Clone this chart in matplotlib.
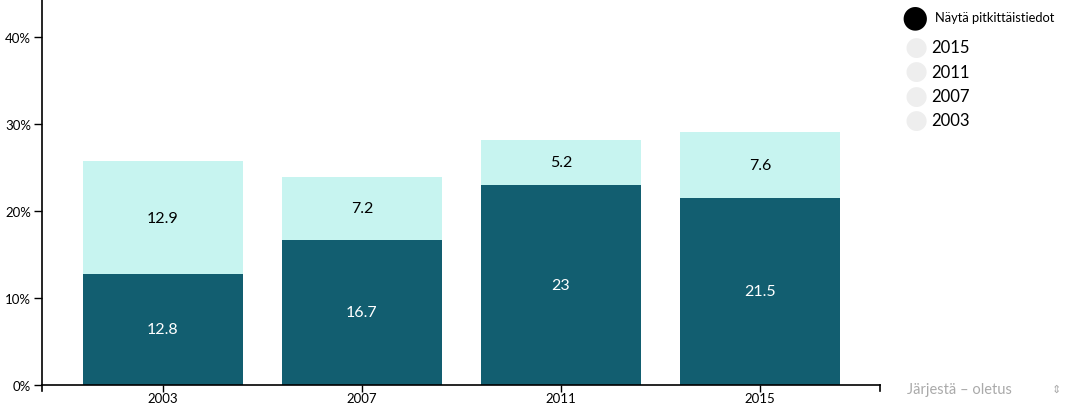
import matplotlib
matplotlib.use("Agg")
import matplotlib.pyplot as plt

years = ["2003", "2007", "2011", "2015"]
lower = [12.8, 16.7, 23.0, 21.5]
upper = [12.9, 7.2, 5.2, 7.6]
yticks = [0, 10, 20, 30, 40]
legend_years = ["2015", "2011", "2007", "2003"]

dark = "#125e70"
light = "#c7f4f0"

plt.rcParams["font.family"] = ["Lato", "DejaVu Sans"]

fig = plt.figure(figsize=(10.66, 4.06), dpi=100)
ax = fig.add_axes([42 / 1066, 20 / 406, 838 / 1066, 386 / 406])

x = list(range(len(years)))
ax.bar(x, lower, width=0.8, color=dark, zorder=2)
ax.bar(x, upper, width=0.8, bottom=lower, color=light, zorder=2)

for i in x:
    ax.text(i, lower[i] / 2, f"{lower[i]:g}", ha="center", va="center",
            color="white", fontsize=11.5)
    ax.text(i, lower[i] + upper[i] / 2, f"{upper[i]:g}", ha="center", va="center",
            color="black", fontsize=11.5)

ax.set_xlim(-0.608, 3.603)
ax.set_ylim(0, 44.37)
ax.set_xticks(x)
ax.set_xticklabels(years)
ax.set_yticks(yticks)
ax.set_yticklabels([f"{t}%" for t in yticks])
ax.tick_params(axis="y", length=6, width=1, labelsize=9.5, color="black", pad=2)
ax.tick_params(axis="x", length=5, width=1, labelsize=9.5, color="black", pad=0.3)
for side in ["top", "right"]:
    ax.spines[side].set_visible(False)
for side in ["left", "bottom"]:
    ax.spines[side].set_linewidth(1.2)
# outer ticks at the ends of the x axis
ax.plot([-0.608, -0.608], [0, -0.7], color="black", lw=1.2, clip_on=False)
ax.plot([3.603, 3.603], [0, -0.7], color="black", lw=1.2, clip_on=False)

# legend panel on the right
fig.text(915 / 1066, 1 - 18 / 406, "\u25cf", fontsize=22, color="black",
         ha="center", va="center", family="DejaVu Sans")
fig.text(935 / 1066, 1 - 18 / 406, "Näytä pitkittäistiedot", fontsize=9.3,
         ha="left", va="center")
for k, yr in enumerate(legend_years):
    yy = 1 - (48 + 24.5 * k) / 406
    fig.text(916 / 1066, yy, "\u25cf", fontsize=19, color="#eeeeee",
             ha="center", va="center", family="DejaVu Sans")
    fig.text(931 / 1066, yy, yr, fontsize=12, ha="left", va="center")

fig.text(907 / 1066, 1 - 390 / 406, "Järjestä – oletus", fontsize=10.5,
         color="#aaaaaa", ha="left", va="center")
fig.text(1056 / 1066, 1 - 390 / 406, "\u21d5", fontsize=8, color="#aaaaaa",
         ha="center", va="center", family="DejaVu Sans")

fig.savefig("out.png", dpi=100)
